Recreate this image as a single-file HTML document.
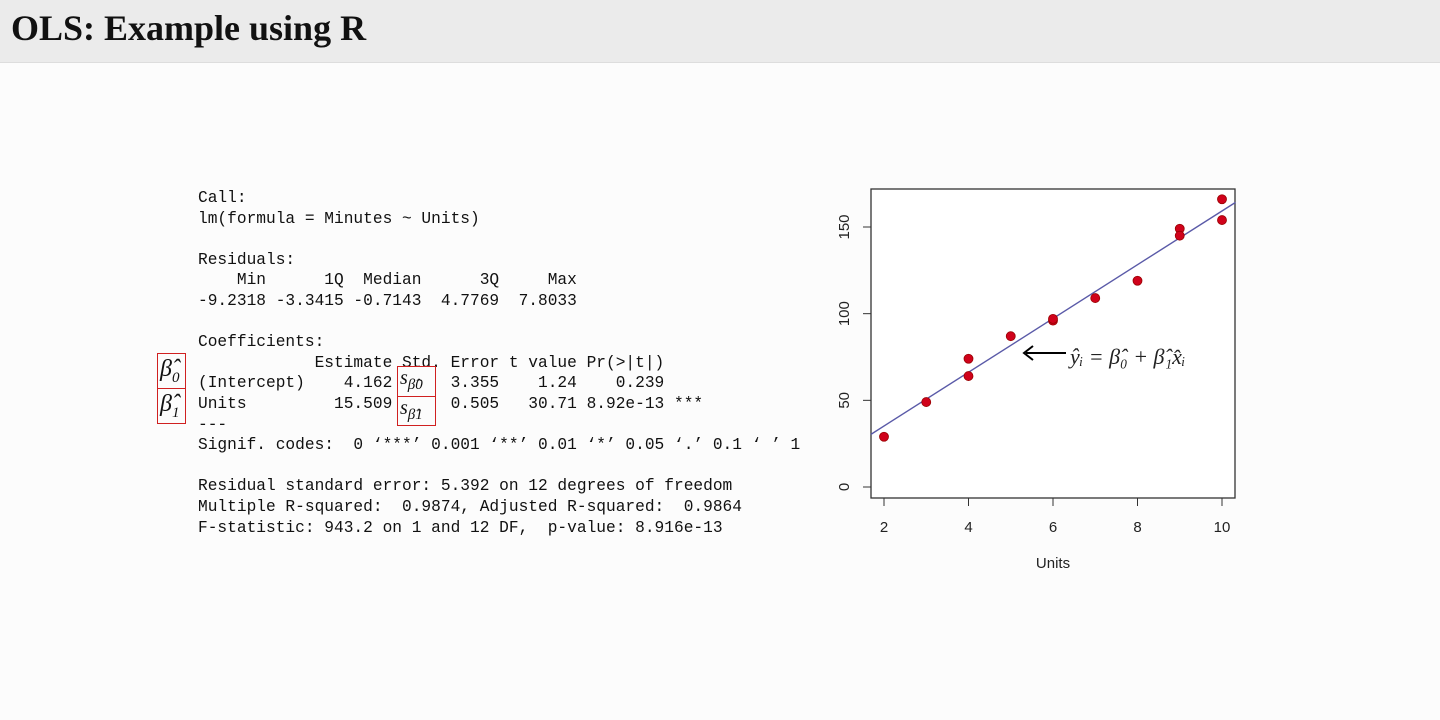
<!DOCTYPE html>
<html><head><meta charset="utf-8"><style>
body{margin:0;width:1440px;height:720px;background:#fcfcfc;position:relative;overflow:hidden;font-family:"Liberation Sans",sans-serif}
#hdr{position:absolute;left:0;top:0;width:1440px;height:62px;background:#ebebeb;border-bottom:1px solid #ddd}
#title{position:absolute;left:11px;top:7px;font:bold 36px "Liberation Serif",serif;color:#111}
pre{position:absolute;left:198px;top:188px;margin:0;font:16.2px/20.6px "Liberation Mono",monospace;color:#111}
.rb{position:absolute;border:1.5px solid #d02020;box-sizing:border-box;font:italic 24px "Liberation Serif",serif;color:#111;background:#fcfcfc;line-height:30px;padding-left:2px}
.rb sub{font-size:15px}
</style></head><body>
<div id="hdr"><div id="title">OLS: Example using R</div></div>
<pre>Call:
lm(formula = Minutes ~ Units)

Residuals:
    Min      1Q  Median      3Q     Max 
-9.2318 -3.3415 -0.7143  4.7769  7.8033 

Coefficients:
            Estimate Std. Error t value Pr(>|t|)    
(Intercept)    4.162      3.355    1.24    0.239    
Units         15.509      0.505   30.71 8.92e-13 ***
---
Signif. codes:  0 ‘***’ 0.001 ‘**’ 0.01 ‘*’ 0.05 ‘.’ 0.1 ‘ ’ 1

Residual standard error: 5.392 on 12 degrees of freedom
Multiple R-squared:  0.9874, Adjusted R-squared:  0.9864 
F-statistic: 943.2 on 1 and 12 DF,  p-value: 8.916e-13</pre>
<div class="rb" style="left:157px;top:353px;width:29px;height:36px">β̂<sub>0</sub></div>
<div class="rb" style="left:157px;top:388px;width:29px;height:36px">β̂<sub>1</sub></div>
<div class="rb" style="left:397px;top:366px;width:39px;height:31px;font-size:20px;line-height:22px">s<sub>β̂0</sub></div>
<div class="rb" style="left:397px;top:396px;width:39px;height:30px;font-size:20px;line-height:22px">s<sub>β̂1</sub></div>
<svg id="chart" width="1440" height="720" style="position:absolute;left:0;top:0"></svg>
<script>
const xs=[2,3,4,4,5,6,6,7,8,9,9,10,10];
const ys=[29,49,74,64,87,96,97,109,119,149,145,166,154];
const xTicks=[2,4,6,8,10];
const yTicks=[0,50,100,150];
const intercept=4.162, slope=15.509;
const svg=document.getElementById('chart');const NS='http://www.w3.org/2000/svg';
const X=v=>884+(v-2)*(1222-884)/8, Y=v=>487-v*(487-227)/150;
function el(t,a,p){const e=document.createElementNS(NS,t);for(const k in a)e.setAttribute(k,a[k]);(p||svg).appendChild(e);return e;}
const box=el('rect',{x:871,y:189,width:364,height:309,fill:'#fff',stroke:'#333','stroke-width':1.3});


xTicks.forEach(v=>{el('line',{x1:X(v),x2:X(v),y1:498,y2:506,stroke:'#333'});
 const t=el('text',{x:X(v),y:532,'text-anchor':'middle','font-size':15,fill:'#222','font-family':'Liberation Sans'});t.textContent=v;
 
 });
yTicks.forEach(v=>{el('line',{x1:863,x2:871,y1:Y(v),y2:Y(v),stroke:'#333'});
 const t=el('text',{x:849,y:Y(v),'text-anchor':'middle','font-size':15,fill:'#222','font-family':'Liberation Sans',transform:`rotate(-90 849 ${Y(v)})`});t.textContent=v;
 
 });
const xl=el('text',{x:1053,y:568,'text-anchor':'middle','font-size':15,fill:'#222','font-family':'Liberation Sans'});xl.textContent='Units';


const x0=1.69,x1=10.32;
const ln=el('line',{x1:X(x0),y1:Y(intercept+slope*x0),x2:X(x1),y2:Y(intercept+slope*x1),stroke:'#5a5aa8','stroke-width':1.4});


xs.forEach((x,i)=>{const c=el('circle',{cx:X(x),cy:Y(ys[i]),r:4.5,fill:'#d0021b',stroke:'#900','stroke-width':0.8});
 
 });
el('line',{x1:1066,y1:353,x2:1026,y2:353,stroke:'#000','stroke-width':2});
el('path',{d:'M1033,346 L1024,353 L1033,360',fill:'none',stroke:'#000','stroke-width':2});
const eq=el('text',{x:1070,y:364,'font-size':22,fill:'#222','font-family':'Liberation Serif','font-style':'italic'});
eq.textContent='ŷᵢ = β̂₀ + β̂₁x̂ᵢ';


</script>
</body></html>
